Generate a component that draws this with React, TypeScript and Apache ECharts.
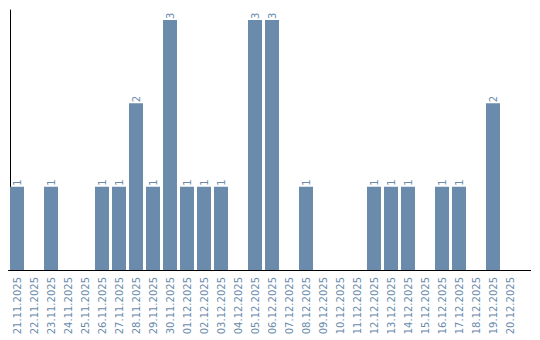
import React, { useEffect, useRef } from "react";
import * as echarts from "echarts";

const categories = [
  "21.11.2025", "22.11.2025", "23.11.2025", "24.11.2025", "25.11.2025",
  "26.11.2025", "27.11.2025", "28.11.2025", "29.11.2025", "30.11.2025",
  "01.12.2025", "02.12.2025", "03.12.2025", "04.12.2025", "05.12.2025",
  "06.12.2025", "07.12.2025", "08.12.2025", "09.12.2025", "10.12.2025",
  "11.12.2025", "12.12.2025", "13.12.2025", "14.12.2025", "15.12.2025",
  "16.12.2025", "17.12.2025", "18.12.2025", "19.12.2025", "20.12.2025",
];
const counts = [
  1, 0, 1, 0, 0, 1, 1, 2, 1, 3,
  1, 1, 1, 0, 3, 3, 0, 1, 0, 0,
  0, 1, 1, 1, 0, 1, 1, 0, 2, 0,
];

const BAR = "#6a8bab";

export default function App() {
  const ref = useRef<HTMLDivElement>(null);
  useEffect(() => {
    if (!ref.current) return;
    const chart = echarts.init(ref.current, null, { renderer: "svg" });
    chart.setOption({
      animation: false,
      grid: { left: 0.5, top: 2, width: 510, height: 260, containLabel: false },
      xAxis: {
        type: "category",
        data: categories,
        axisLine: { show: true, lineStyle: { color: "#000", width: 1 } },
        axisTick: { show: false },
        axisLabel: {
          rotate: 90,
          interval: 0,
          margin: 7,
          fontSize: 10,
          color: BAR,
          fontFamily: "DejaVu Sans",
        },
      },
      yAxis: {
        type: "value",
        min: 0,
        max: 3.12,
        offset: -1.5,
        axisLine: { show: true, lineStyle: { color: "#000", width: 1 } },
        axisTick: { show: false },
        axisLabel: { show: false },
        splitLine: { show: false },
      },
      series: [
        {
          type: "bar",
          data: counts.map((v) => (v === 0 ? null : v)),
          barWidth: 14,
          itemStyle: { color: BAR },
          label: {
            show: true,
            position: "top",
            rotate: 90,
            align: "left",
            verticalAlign: "middle",
            distance: 1,
            fontSize: 10,
            color: BAR,
            fontFamily: "DejaVu Sans",
          },
        },
      ],
      graphic: [
        {
          type: "line",
          shape: { x1: 510, y1: 262.5, x2: 523, y2: 262.5 },
          style: { stroke: "#000", lineWidth: 1 },
          silent: true,
        },
      ],
    });
    return () => chart.dispose();
  }, []);
  return <div ref={ref} style={{ width: 532, height: 332 }} />;
}
